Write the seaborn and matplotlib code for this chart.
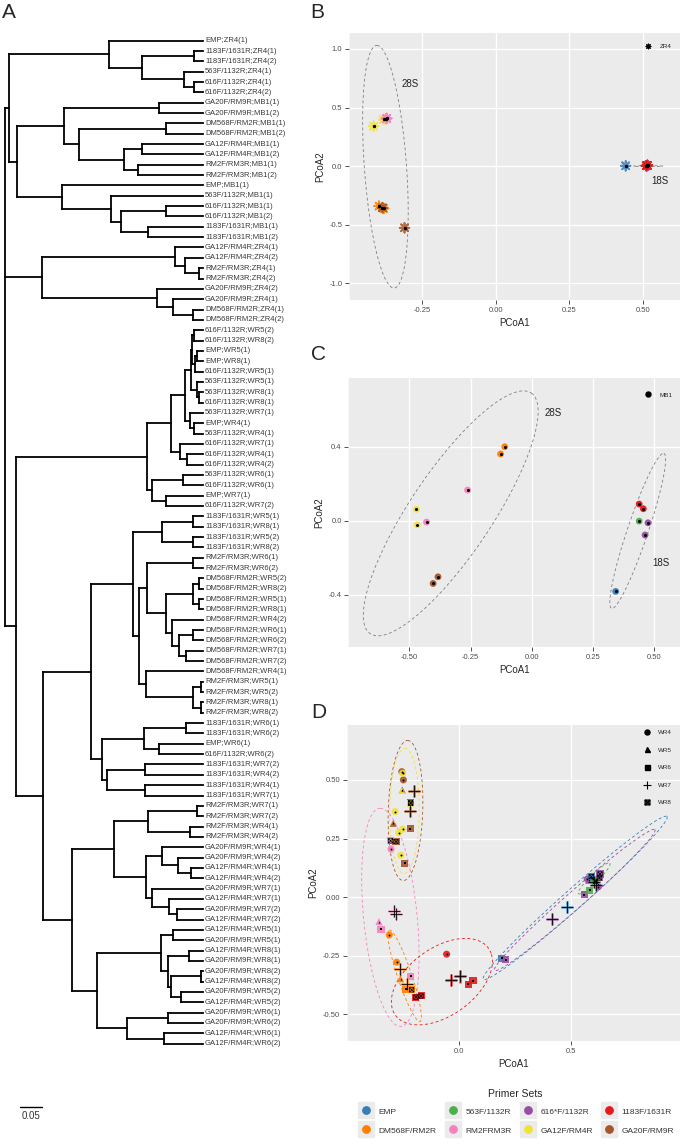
import numpy as np
import pandas as pd
import matplotlib
matplotlib.use("Agg")
import matplotlib.pyplot as plt
import seaborn as sns
from matplotlib.lines import Line2D
from matplotlib.path import Path
from matplotlib.collections import LineCollection
from matplotlib.legend_handler import HandlerTuple
from matplotlib.ticker import FixedLocator

sns.set_theme(style="darkgrid")
plt.rcParams['font.family'] = ['Liberation Sans', 'DejaVu Sans']
plt.rcParams['axes.unicode_minus'] = False

# ------------------------------------------------------------------ data
LEAVES = [
    "EMP;ZR4(1)", "1183F/1631R;ZR4(1)", "1183F/1631R;ZR4(2)", "563F/1132R;ZR4(1)",
    "616F/1132R;ZR4(1)", "616F/1132R;ZR4(2)", "GA20F/RM9R;MB1(1)", "GA20F/RM9R;MB1(2)",
    "DM568F/RM2R;MB1(1)", "DM568F/RM2R;MB1(2)", "GA12F/RM4R;MB1(1)", "GA12F/RM4R;MB1(2)",
    "RM2F/RM3R;MB1(1)", "RM2F/RM3R;MB1(2)", "EMP;MB1(1)", "563F/1132R;MB1(1)",
    "616F/1132R;MB1(1)", "616F/1132R;MB1(2)", "1183F/1631R;MB1(1)", "1183F/1631R;MB1(2)",
    "GA12F/RM4R;ZR4(1)", "GA12F/RM4R;ZR4(2)", "RM2F/RM3R;ZR4(1)", "RM2F/RM3R;ZR4(2)",
    "GA20F/RM9R;ZR4(2)", "GA20F/RM9R;ZR4(1)", "DM568F/RM2R;ZR4(1)", "DM568F/RM2R;ZR4(2)",
    "616F/1132R;WR5(2)", "616F/1132R;WR8(2)", "EMP;WR5(1)", "EMP;WR8(1)",
    "616F/1132R;WR5(1)", "563F/1132R;WR5(1)", "563F/1132R;WR8(1)", "616F/1132R;WR8(1)",
    "563F/1132R;WR7(1)", "EMP;WR4(1)", "563F/1132R;WR4(1)", "616F/1132R;WR7(1)",
    "616F/1132R;WR4(1)", "616F/1132R;WR4(2)", "563F/1132R;WR6(1)", "616F/1132R;WR6(1)",
    "EMP;WR7(1)", "616F/1132R;WR7(2)", "1183F/1631R;WR5(1)", "1183F/1631R;WR8(1)",
    "1183F/1631R;WR5(2)", "1183F/1631R;WR8(2)", "RM2F/RM3R;WR6(1)", "RM2F/RM3R;WR6(2)",
    "DM568F/RM2R;WR5(2)", "DM568F/RM2R;WR8(2)", "DM568F/RM2R;WR5(1)", "DM568F/RM2R;WR8(1)",
    "DM568F/RM2R;WR4(2)", "DM568F/RM2R;WR6(1)", "DM568F/RM2R;WR6(2)", "DM568F/RM2R;WR7(1)",
    "DM568F/RM2R;WR7(2)", "DM568F/RM2R;WR4(1)", "RM2F/RM3R;WR5(1)", "RM2F/RM3R;WR5(2)",
    "RM2F/RM3R;WR8(1)", "RM2F/RM3R;WR8(2)", "1183F/1631R;WR6(1)", "1183F/1631R;WR6(2)",
    "EMP;WR6(1)", "616F/1132R;WR6(2)", "1183F/1631R;WR7(2)", "1183F/1631R;WR4(2)",
    "1183F/1631R;WR4(1)", "1183F/1631R;WR7(1)", "RM2F/RM3R;WR7(1)", "RM2F/RM3R;WR7(2)",
    "RM2F/RM3R;WR4(1)", "RM2F/RM3R;WR4(2)", "GA20F/RM9R;WR4(1)", "GA20F/RM9R;WR4(2)",
    "GA12F/RM4R;WR4(1)", "GA12F/RM4R;WR4(2)", "GA20F/RM9R;WR7(1)", "GA12F/RM4R;WR7(1)",
    "GA20F/RM9R;WR7(2)", "GA12F/RM4R;WR7(2)", "GA12F/RM4R;WR5(1)", "GA20F/RM9R;WR5(1)",
    "GA12F/RM4R;WR8(1)", "GA20F/RM9R;WR8(1)", "GA20F/RM9R;WR8(2)", "GA12F/RM4R;WR8(2)",
    "GA20F/RM9R;WR5(2)", "GA12F/RM4R;WR5(2)", "GA20F/RM9R;WR6(1)", "GA20F/RM9R;WR6(2)",
    "GA12F/RM4R;WR6(1)", "GA12F/RM4R;WR6(2)",
]

# node = [depth from root, child, child, ...]; ints are leaf indices
TREE = [0.000,
  [0.009,
    [0.236, 0, [0.311, [0.430, 1, 2], [0.407, 3, [0.430, 4, 5]]]],
    [0.027,
      [0.134, [0.350, 6, 7], [0.168, [0.366, 8, 9], [0.270, [0.311, 10, 11], [0.302, 12, 13]]]],
      [0.130, 14, [0.241, 15, [0.264, [0.366, 16, 17], [0.325, 18, 19]]]]]],
  [0.084,
    [0.386, 20, [0.409, 21, [0.441, 22, 23]]],
    [0.345, 24, [0.382, 25, [0.427, 26, 27]]]],
  [0.025,
    [0.322,
      [0.377,
        [0.409,
          [0.423, [0.425, [0.430, 28, 29], [0.432, [0.436, 30, 31], 32]], [0.436, 33, [0.442, 34, 35]]],
          [0.420, 36, [0.430, 37, 38]]],
        [0.398, 39, [0.414, 40, 41]]],
      [0.335, [0.404, 42, 43], [0.365, 44, 45]]],
    [0.086,
      [0.195,
        [0.291,
          [0.357, [0.427, 46, 47], [0.427, 48, 49]],
          [0.305,
            [0.323, [0.427, 50, 51],
                    [0.366, [0.427, [0.441, 52, 53], [0.441, 54, 55]],
                            [0.380, 56, [0.395, [0.427, 57, 58], [0.411, 59, 60]]]]],
            [0.320, 61, [0.427, [0.445, 62, 63], [0.445, 64, 65]]]]],
        [0.220, [0.316, [0.411, 66, 67], [0.350, 68, 69]], [0.232, [0.318, 70, 71], [0.318, 72, 73]]]],
      [0.152,
        [0.248, [0.325, [0.436, 74, 75], [0.420, 76, 77]],
                [0.320, [0.357, 78, [0.393, 79, [0.423, 80, 81]]], [0.334, 82, [0.373, 83, [0.391, 84, 85]]]]],
        [0.209, [0.355, [0.382, 86, 87], [0.370, [0.418, 88, 89], [0.377, [0.445, 90, 91], [0.400, 92, 93]]]],
                [0.277, [0.370, 94, 95], [0.361, 96, 97]]]]]]]
TIP_DEPTH = 0.450
SCALE_BAR = 0.05

PRIMER_KEYS = ["EMP", "563", "616", "1183", "DM568", "RM2", "GA12", "GA20"]
PRIMER_LABELS = ["EMP", "563F/1132R", "616*F/1132R", "1183F/1631R",
                 "DM568F/RM2R", "RM2FRM3R", "GA12F/RM4R", "GA20F/RM9R"]
PRIMER_COLORS = ["#377EB8", "#4DAF4A", "#984EA3", "#E41A1C",
                 "#FF7F00", "#F781BF", "#F0E23C", "#A65628"]

# Panel B (ZR4)
B_primer = ["GA12", "GA12", "RM2", "RM2", "DM568", "DM568", "GA20", "GA20",
            "EMP", "616", "616", "563", "1183", "1183"]
B_x = [-0.416, -0.382, -0.373, -0.371, -0.398, -0.382, -0.386, -0.311,
       0.442, 0.513, 0.517, 0.514, 0.512, 0.516]
B_y = [0.341, 0.398, 0.406, 0.408, -0.341, -0.361, -0.355, -0.526,
       0.003, 0.002, 0.006, 0.003, 0.004, 0.008]

# Panel C (MB1)
C_primer = ["DM568", "DM568", "RM2", "RM2", "GA12", "GA12", "GA20", "GA20",
            "1183", "1183", "563", "616", "616", "EMP"]
C_x = [-0.110, -0.127, -0.262, -0.430, -0.471, -0.468, -0.383, -0.403,
       0.440, 0.457, 0.440, 0.476, 0.464, 0.344]
C_y = [0.400, 0.361, 0.166, -0.007, 0.062, -0.022, -0.303, -0.339,
       0.090, 0.065, -0.002, -0.011, -0.077, -0.382]

# Panel D (WR4-WR8)
D_primer = (["GA20"] * 10 + ["GA12"] * 7 + ["RM2"] * 7 + ["DM568"] * 7 +
            ["1183"] * 7 + ["EMP"] * 5 + ["616"] * 10 + ["563"] * 5)
D_wr = ["WR4", "WR4", "WR5", "WR5", "WR6", "WR6", "WR7", "WR7", "WR8", "WR8",
        "WR4", "WR4", "WR4", "WR4", "WR4", "WR5", "WR8",
        "WR8", "WR4", "WR7", "WR7", "WR5", "WR6", "WR6",
        "WR4", "WR4", "WR7", "WR5", "WR7", "WR6", "WR8",
        "WR8", "WR8", "WR4", "WR7", "WR7", "WR6", "WR6",
        "WR6", "WR7", "WR4", "WR5", "WR8",
        "WR6", "WR7", "WR6", "WR4", "WR8", "WR8", "WR5", "WR4", "WR7", "WR5",
        "WR4", "WR5", "WR8", "WR7", "WR6"]
D_x = [-0.254, -0.247, -0.252, -0.292, -0.217, -0.240, -0.198, -0.217, -0.214, -0.280,
       -0.250, -0.284, -0.250, -0.267, -0.258, -0.254, -0.214,
       -0.304, -0.302, -0.287, -0.280, -0.356, -0.347, -0.214,
       -0.310, -0.277, -0.262, -0.259, -0.232, -0.237, -0.210,
       -0.191, -0.168, -0.054, -0.034, 0.006, 0.043, 0.064,
       0.192, 0.482, 0.589, 0.596, 0.592,
       0.210, 0.418, 0.561, 0.574, 0.631, 0.628, 0.620, 0.623, 0.613, 0.580,
       0.613, 0.601, 0.610, 0.606, 0.585]
D_y = [0.535, 0.500, 0.457, 0.315, 0.291, 0.145, 0.453, 0.368, 0.403, 0.237,
       0.528, 0.365, 0.290, 0.275, 0.179, 0.455, 0.400,
       0.240, 0.205, -0.057, -0.073, -0.104, -0.136, -0.338,
       -0.161, -0.277, -0.307, -0.348, -0.371, -0.392, -0.395,
       -0.426, -0.421, -0.243, -0.353, -0.338, -0.371, -0.357,
       -0.260, -0.040, 0.085, 0.082, 0.088,
       -0.267, -0.094, 0.010, 0.077, 0.099, 0.082, 0.058, 0.045, 0.052, 0.072,
       0.074, 0.081, 0.068, 0.063, 0.030]

# stat-ellipse outlines: centre, two conjugate half-axes (data units)
B_ELL_C = [(-0.376, -0.005), (0.518, 0.000)]
B_ELL_V1 = [(-0.029, 1.035), (0.051, 0.000)]
B_ELL_V2 = [(0.072, 0.000), (0.000, 0.004)]
C_ELL_C = [(-0.331, 0.040), (0.434, -0.055)]
C_ELL_V1 = [(0.330, 0.650), (0.107, 0.419)]
C_ELL_V2 = [(0.138, -0.126), (0.040, -0.018)]
D_ELL_KEY = ["GA20", "GA12", "RM2", "DM568", "1183", "EMP", "616", "563"]
D_ELL_C = [(-0.2375, 0.3695), (-0.242, 0.368), (-0.305, -0.086), (-0.2415, -0.335),
           (-0.075, -0.360), (0.520, -0.003), (0.518, -0.012), (0.605, 0.080)]
D_ELL_V1 = [(0.0095, 0.2985), (0.002, 0.267), (-0.045, 0.465), (-0.0685, 0.195),
            (0.220, 0.120), (0.410, 0.347), (0.358, 0.300), (0.070, 0.065)]
D_ELL_V2 = [(0.077, 0.0), (0.066, 0.0), (0.120, 0.0), (0.030, 0.0096),
            (-0.050, 0.140), (0.0296, -0.0319), (0.0253, -0.0275), (0.012, -0.013)]

B_XTICKS = [-0.25, 0.0, 0.25, 0.50]
B_YTICKS = [1.0, 0.5, 0.0, -0.5, -1.0]
C_XTICKS = [-0.50, -0.25, 0.0, 0.25, 0.50]
C_YTICKS = [0.4, 0.0, -0.4]
D_XTICKS = [0.0, 0.5]
D_YTICKS = [0.50, 0.25, 0.0, -0.25, -0.50]
WR_LEVELS = ["WR4", "WR5", "WR6", "WR7", "WR8"]

# ------------------------------------------------------------------ styling helpers
PAL = dict(zip(PRIMER_KEYS, PRIMER_COLORS))
BOXCROSS = Path([(-1, -1), (1, -1), (1, 1), (-1, 1), (-1, -1), (-1, -1), (1, 1), (-1, 1), (1, -1)],
                [Path.MOVETO, Path.LINETO, Path.LINETO, Path.LINETO, Path.CLOSEPOLY,
                 Path.MOVETO, Path.LINETO, Path.MOVETO, Path.LINETO])
COLOR_MARK = {"WR4": "o", "WR5": "^", "WR6": "s", "WR7": "+", "WR8": "s"}
BLACK_MARK = {"WR4": "o", "WR5": "^", "WR6": "s", "WR7": "+", "WR8": BOXCROSS}

W, H = 682, 1145
fig = plt.figure(figsize=(W / 100, H / 100), dpi=100)
fig.patch.set_facecolor("white")


def px_axes(left, top, right, bottom):
    return fig.add_axes([left / W, 1 - bottom / H, (right - left) / W, (bottom - top) / H])


def gg_axes(ax, xlim, ylim, xt, yt, xfmt, yfmt):
    ax.set_facecolor("#EBEBEB")
    for s in ax.spines.values():
        s.set_visible(False)
    ax.set_xlim(*xlim)
    ax.set_ylim(*ylim)
    ax.set_xticks(xt)
    ax.set_xticklabels([xfmt.format(v) for v in xt])
    ax.set_yticks(yt)
    ax.set_yticklabels([yfmt.format(v) for v in yt])
    xs = sorted(xt)
    ys = sorted(yt)
    dx = xs[1] - xs[0]
    dy = ys[1] - ys[0]
    mx = np.arange(xs[0] - 2.5 * dx, xs[-1] + 2.5 * dx, dx) + dx / 2
    my = np.arange(ys[0] - 2.5 * dy, ys[-1] + 2.5 * dy, dy) + dy / 2
    ax.xaxis.set_minor_locator(FixedLocator(mx))
    ax.yaxis.set_minor_locator(FixedLocator(my))
    ax.grid(True, which="major", color="white", lw=1.0)
    ax.grid(True, which="minor", color="white", lw=0.5)
    ax.set_axisbelow(True)
    ax.tick_params(which="major", length=2.75, width=0.6, color="#333333",
                   labelsize=5.5, labelcolor="#4D4D4D", pad=2.0,
                   bottom=True, left=True, direction="out")
    ax.tick_params(which="minor", length=0)
    ax.set_xlabel("PCoA1", fontsize=7, labelpad=3)
    ax.set_ylabel("PCoA2", fontsize=7, labelpad=3)


def ellipse(ax, c, v1, v2, color, lw=0.6):
    t = np.linspace(0, 2 * np.pi, 240)
    x = c[0] + np.cos(t) * v1[0] + np.sin(t) * v2[0]
    y = c[1] + np.cos(t) * v1[1] + np.sin(t) * v2[1]
    ax.plot(x, y, color=color, lw=lw, ls=(0, (3.5, 3.0)), zorder=2)


# ------------------------------------------------------------------ panel A: tree
axA = fig.add_axes([0, 0, 0.5, 1])
axA.set_axis_off()
axA.set_xlim(-5 / 440, (341 - 5) / 440)
axA.set_ylim((H - 40.7) / 10.34, -40.7 / 10.34)

segs = []


def walk(node, parent_depth):
    if isinstance(node, int):
        segs.append([(parent_depth, node), (TIP_DEPTH, node)])
        return node
    depth = node[0]
    ys = [walk(ch, depth) for ch in node[1:]]
    y = (min(ys) + max(ys)) / 2
    segs.append([(depth, min(ys)), (depth, max(ys))])
    if parent_depth is not None:
        segs.append([(parent_depth, y), (depth, y)])
    return y


walk(TREE, None)
axA.add_collection(LineCollection(segs, colors="black", linewidths=1.3, capstyle="projecting"))
for i, lab in enumerate(LEAVES):
    axA.text(TIP_DEPTH + 0.0045, i, lab, fontsize=5.5, color="#3a3a3a", ha="left", va="center")
sb_y = (1107 - 40.7) / 10.34
axA.plot([0.034, 0.034 + SCALE_BAR], [sb_y, sb_y], color="black", lw=1.0)
axA.text(0.034 + SCALE_BAR / 2, sb_y + 0.35, f"{SCALE_BAR:.2f}", fontsize=7, ha="center", va="top",
         color="#333333")
fig.text(2 / W, 1 - 13 / H, "A", fontsize=15, ha="left", va="center")

# ------------------------------------------------------------------ panel B
axB = px_axes(349, 33, 680, 300)
gg_axes(axB, (-0.50, 0.627), (-1.142, 1.136), B_XTICKS, B_YTICKS, "{:.2f}", "{:.1f}")
for c, v1, v2 in zip(B_ELL_C, B_ELL_V1, B_ELL_V2):
    ellipse(axB, c, v1, v2, "#7F7F7F")
dfB = pd.DataFrame({"x": B_x, "y": B_y, "primer": B_primer})
sns.scatterplot(data=dfB, x="x", y="y", hue="primer", palette=PAL, marker=(8, 2, 0),
                s=48, linewidth=1.3, alpha=0.85, legend=False, ax=axB, zorder=3)
axB.scatter(dfB["x"], dfB["y"], s=2.0, color="black", zorder=4)
axB.text(-0.290, 0.705, "28S", fontsize=7, ha="center", va="center", color="#222222")
axB.text(0.559, -0.128, "18S", fontsize=7, ha="center", va="center", color="#222222")
axB.set_xlabel("PCoA1", fontsize=7, labelpad=3)
axB.legend(handles=[Line2D([], [], marker=(8, 2, 0), color="black", ls="none", ms=4, mew=0.8)],
           labels=["ZR4"], loc="center left", bbox_to_anchor=(0.894, 0.949), frameon=False,
           fontsize=4.5, handlelength=1.0, handletextpad=1.3, borderpad=0, borderaxespad=0)
fig.text(310 / W, 1 - 13 / H, "B", fontsize=15, ha="left", va="center")

# ------------------------------------------------------------------ panel C
axC = px_axes(348.3, 378.3, 680, 647.3)
gg_axes(axC, (-0.750, 0.607), (-0.684, 0.770), C_XTICKS, C_YTICKS, "{:.2f}", "{:.1f}")
for c, v1, v2 in zip(C_ELL_C, C_ELL_V1, C_ELL_V2):
    ellipse(axC, c, v1, v2, "#7F7F7F")
dfC = pd.DataFrame({"x": C_x, "y": C_y, "primer": C_primer})
sns.scatterplot(data=dfC, x="x", y="y", hue="primer", palette=PAL, marker="o",
                s=24, linewidth=0, alpha=0.95, legend=False, ax=axC, zorder=3)
axC.scatter(dfC["x"], dfC["y"], s=1.5, color="black", zorder=4)
axC.text(0.090, 0.580, "28S", fontsize=7, ha="center", va="center", color="#222222")
axC.text(0.529, -0.227, "18S", fontsize=7, ha="center", va="center", color="#222222")
axC.legend(handles=[Line2D([], [], marker="o", color="black", ls="none", ms=3.6)],
           labels=["MB1"], loc="center left", bbox_to_anchor=(0.895, 0.938), frameon=False,
           fontsize=4.5, handlelength=1.0, handletextpad=1.3, borderpad=0, borderaxespad=0)
fig.text(311 / W, 1 - 355 / H, "C", fontsize=15, ha="left", va="center")

# ------------------------------------------------------------------ panel D
axD = px_axes(346.7, 725, 680, 1041)
gg_axes(axD, (-0.500, 0.988), (-0.613, 0.734), D_XTICKS, D_YTICKS, "{:.1f}", "{:.2f}")
for k, c, v1, v2 in zip(D_ELL_KEY, D_ELL_C, D_ELL_V1, D_ELL_V2):
    ellipse(axD, c, v1, v2, PAL[k], lw=0.6)
dfD = pd.DataFrame({"x": D_x, "y": D_y, "primer": D_primer, "wr": D_wr})
for wr in WR_LEVELS:
    sub = dfD[dfD["wr"] == wr]
    if wr == "WR7":
        sns.scatterplot(data=sub, x="x", y="y", hue="primer", palette=PAL, marker="+",
                        s=75, linewidth=1.8, alpha=0.8, legend=False, ax=axD, zorder=3)
    else:
        sns.scatterplot(data=sub, x="x", y="y", hue="primer", palette=PAL, marker=COLOR_MARK[wr],
                        s=26, linewidth=0, alpha=0.9, legend=False, ax=axD, zorder=3)
for wr in WR_LEVELS:
    sub = dfD[dfD["wr"] == wr]
    if wr == "WR7":
        axD.scatter(sub["x"], sub["y"], marker="+", s=65, linewidths=0.6, color="black", zorder=4)
    elif wr == "WR8":
        axD.scatter(sub["x"], sub["y"], marker=BOXCROSS, s=10, linewidths=0.45,
                    facecolors="none", edgecolors="black", zorder=4)
    else:
        axD.scatter(sub["x"], sub["y"], marker=BLACK_MARK[wr], s=2.0, color="black",
                    linewidths=0, zorder=4)
wr_handles = []
for wr in WR_LEVELS:
    if wr == "WR7":
        wr_handles.append(Line2D([], [], marker="+", color="black", ls="none", ms=6, mew=0.8))
    elif wr == "WR8":
        wr_handles.append(Line2D([], [], marker=BOXCROSS, color="black", mfc="#555555",
                                 ls="none", ms=3.6, mew=0.8))
    else:
        wr_handles.append(Line2D([], [], marker=COLOR_MARK[wr], color="black", ls="none", ms=3.6))
axD.legend(handles=wr_handles, labels=WR_LEVELS, loc="upper left", bbox_to_anchor=(0.891, 0.985),
           frameon=False, fontsize=4.5, handlelength=1.0, handletextpad=1.3, borderpad=0,
           borderaxespad=0, labelspacing=1.95)
fig.text(311 / W, 1 - 713 / H, "D", fontsize=15, ha="left", va="center")

# ------------------------------------------------------------------ shared legend
order = [0, 4, 1, 5, 2, 6, 3, 7]
handles, labels = [], []
for i in order:
    bg = Line2D([], [], marker="s", ms=12.2, color="#EBEBEB", ls="none")
    dot = Line2D([], [], marker="o", ms=5.3, color=PRIMER_COLORS[i], ls="none")
    handles.append((bg, dot))
    labels.append(PRIMER_LABELS[i])
leg = fig.legend(handles=handles, labels=labels, ncol=4, loc="upper center",
                 bbox_to_anchor=(515.7 / W, 1 - 1085 / H), frameon=False, fontsize=6,
                 title="Primer Sets", title_fontsize=7.5, handlelength=2.04, handleheight=2.04,
                 handletextpad=0.5, columnspacing=0.9, labelspacing=0.72, borderpad=0,
                 handler_map={tuple: HandlerTuple(ndivide=1)})
for t in leg.get_texts():
    t.set_color("#333333")

fig.savefig("out.png", dpi=100)
